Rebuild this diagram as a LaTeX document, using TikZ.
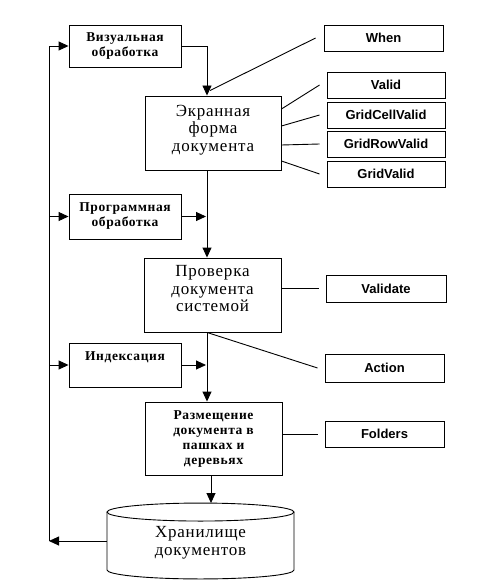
\documentclass[tikz,border=0pt]{standalone}
\usepackage{fontspec}
\newfontfamily\rs{Liberation Serif}[LetterSpace=4.5]
\newfontfamily\en{Liberation Sans}
\usetikzlibrary{arrows.meta,calc}
\begin{document}
\begin{tikzpicture}[x=1pt,y=-1pt,
  every path/.style={line width=0.9pt},
  box/.style={draw,inner sep=0pt,line width=0.9pt},
  bigt/.style={font=\rs\fontsize{17}{17.5}\selectfont,align=center,inner sep=0pt},
  smt/.style={font=\rs\bfseries\fontsize{13.5}{15}\selectfont,align=center,inner sep=0pt},
  ent/.style={font=\en\bfseries\fontsize{13}{14}\selectfont,inner sep=0pt},
  arr/.style={-{Triangle[length=10pt,width=9pt]}}]
\useasboundingbox (0,0) rectangle (480,585);
% main boxes
\node[box,minimum width=112pt,minimum height=42pt] (vis) at (125,46) {};
\node[smt] (visT) at (125,46) {Визуальная\\обработка};
\node[box,minimum width=136pt,minimum height=74pt] (ekr) at (213,133) {};
\node[bigt] (ekrT) at (213,130) {Экранная\\форма\\документа};
\node[box,minimum width=112pt,minimum height=45pt] (prog) at (125,216.5) {};
\node[smt] (progT) at (125,216) {Программная\\обработка};
\node[box,minimum width=137pt,minimum height=74pt] (prov) at (212.5,295) {};
\node[bigt] (provT) at (212.5,289) {Проверка\\документа\\системой};
\node[box,minimum width=112pt,minimum height=44pt] (index) at (125,365) {};
\node[smt] (indexT) at (125,357) {Индексация};
\node[box,minimum width=137pt,minimum height=73pt] (razm) at (213.5,438.5) {};
\node[smt] (razmT) at (213.5,439) {Размещение\\документа в\\пашках и\\деревьях};
% store (cylinder)
\node[inner sep=0pt,minimum width=187pt,minimum height=75pt] (store) at (200.5,541) {};
\path (store.north) ++(0,9) coordinate (ct);
\path (store.south) ++(0,-9) coordinate (cb);
\draw (ct) ellipse [x radius=93.5pt,y radius=9pt];
\draw ($(ct)+(-93.5,0)$) -- ($(cb)+(-93.5,0)$)
  arc[start angle=180,end angle=360,x radius=93.5pt,y radius=9pt]
  -- ($(ct)+(93.5,0)$);
\node[bigt] (storeT) at (200.5,543) {Хранилище\\документов};
% right boxes
\node[box,ent,minimum width=119pt,minimum height=26pt] (when) at (383.5,38) {When};
\node[box,ent,minimum width=118pt,minimum height=26pt] (valid) at (386,85) {Valid};
\node[box,ent,minimum width=118pt,minimum height=26pt] (gcv) at (386,115) {GridCellValid};
\node[box,ent,minimum width=118pt,minimum height=26pt] (grv) at (386,144) {GridRowValid};
\node[box,ent,minimum width=118pt,minimum height=26pt] (gv) at (386,174) {GridValid};
\node[box,ent,minimum width=120pt,minimum height=27pt] (validate) at (386,288.5) {Validate};
\node[box,ent,minimum width=119pt,minimum height=28pt] (action) at (384.5,368) {Action};
\node[box,ent,minimum width=119pt,minimum height=26pt] (folders) at (384.5,434) {Folders};
% helper coordinates
\coordinate (spine) at (207,0);
\coordinate (spine2) at (211,0);
\coordinate (L1) at (49,541);
\coordinate (L2) at (49,46);
% left loop
\draw[arr] (store.west) -- (L1);
\draw (L1) -- (L2);
\draw[arr] (L2) -- (vis.west);
\draw[arr] (prog.west -| L1) -- (prog.west);
\draw[arr] (index.west -| L1) -- (index.west);
% main flow
\draw[arr] (vis.east) -| (ekr.north -| spine);
\draw[arr] (ekr.south -| spine) -- (prov.north -| spine);
\draw[arr,shorten >=1pt] (prog.east) -- (prog.east -| spine);
\draw[arr] (prov.south -| spine) -- (razm.north -| spine);
\draw[arr,shorten >=1pt] (index.east) -- (index.east -| spine);
\draw[arr] (razm.south -| spine2) -- (store.north -| spine2);
% links to event boxes
\draw ($(ekr.north -| spine)+(3,-5)$) -- ([xshift=-8pt]when.west);
\draw ([yshift=24pt]ekr.east) -- ([xshift=-7pt]valid.west);
\draw ([yshift=7pt]ekr.east) -- ([xshift=-7pt]gcv.west);
\draw ([yshift=-12pt]ekr.east) -- ([xshift=-7pt]grv.west);
\draw ([yshift=-28pt]ekr.east) -- ([xshift=-7pt]gv.west);
\draw (prov.east |- validate.west) -- ([xshift=-7pt]validate.west);
\draw (prov.south -| spine) -- ([xshift=-7pt]action.west);
\draw (razm.east |- folders.west) -- ([xshift=-7pt]folders.west);
\end{tikzpicture}
\end{document}
